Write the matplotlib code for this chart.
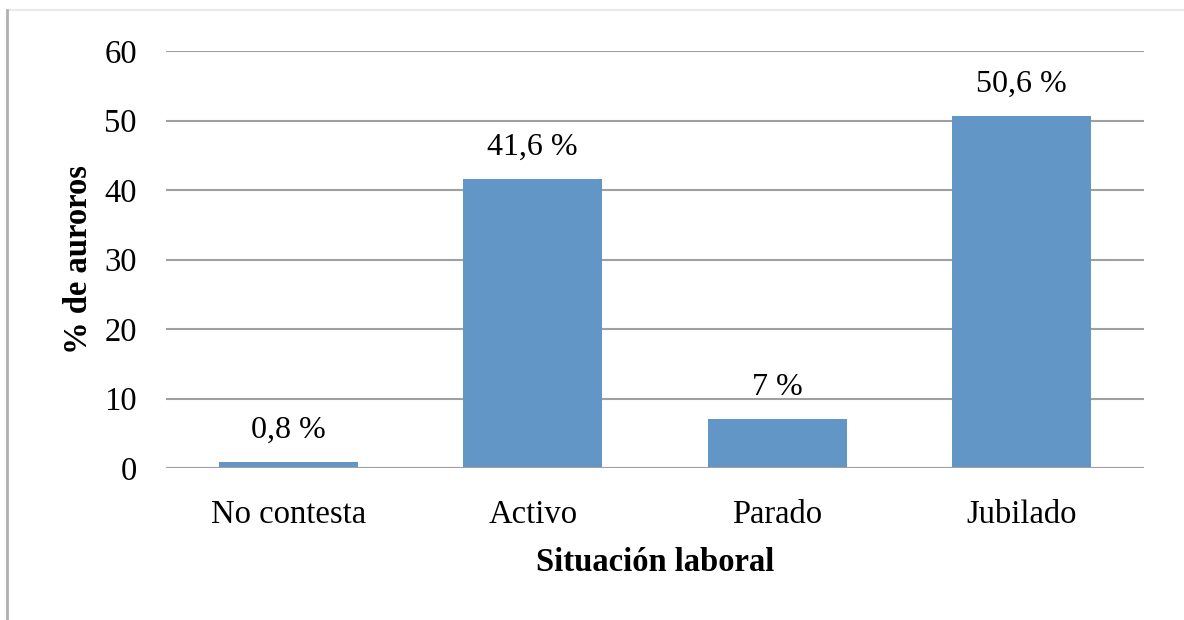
import matplotlib.pyplot as plt
from matplotlib.lines import Line2D

categories = ["No contesta", "Activo", "Parado", "Jubilado"]
values = [0.8, 41.6, 7, 50.6]
labels = ["0,8 %", "41,6 %", "7 %", "50,6 %"]
yticks = [0, 10, 20, 30, 40, 50, 60]

plt.rcParams['font.family'] = ['Liberation Serif', 'DejaVu Serif']

fig = plt.figure(figsize=(11.84, 6.2), dpi=100)
ax = fig.add_axes([166 / 1184, 1 - 468 / 620, (1144 - 166) / 1184, (468 - 51) / 620])

x = range(len(categories))
bars = ax.bar(x, values, width=0.57, color='#6296c6', zorder=3)
for b, lab in zip(bars, labels):
    ax.annotate(lab, (b.get_x() + b.get_width() / 2, b.get_height()),
                xytext=(0, 23), textcoords='offset points',
                ha='center', va='center', fontsize=23)

ax.set_xlim(-0.5, len(categories) - 0.5)
ax.set_ylim(0, 60)
ax.set_yticks(yticks)
ax.set_yticklabels([str(t) for t in yticks], fontsize=23.5)
ax.set_xticks(list(x))
ax.set_xticklabels(categories, fontsize=23.5)
ax.grid(axis='y', color='#a0a0a0', linewidth=1.5, zorder=0)
for s in ax.spines.values():
    s.set_visible(False)
ax.tick_params(axis='both', length=0)
ax.tick_params(axis='y', pad=21)
ax.tick_params(axis='x', pad=23)
ax.axhline(0, color='#a0a0a0', linewidth=2.2, zorder=4)

ax.set_xlabel("Situación laboral", fontsize=23.5, fontweight='bold', labelpad=12)
ax.set_ylabel("% de auroros", fontsize=23.5, fontweight='bold', labelpad=7)

# frame of the original screenshot
fig.add_artist(Line2D([7 / 1184, 1], [1 - 10 / 620] * 2, color='#eaeaea', linewidth=1.5))
fig.add_artist(Line2D([7 / 1184] * 2, [0, 1 - 10 / 620], color='#b0b0b0', linewidth=2))

fig.savefig("out.png", dpi=100)
